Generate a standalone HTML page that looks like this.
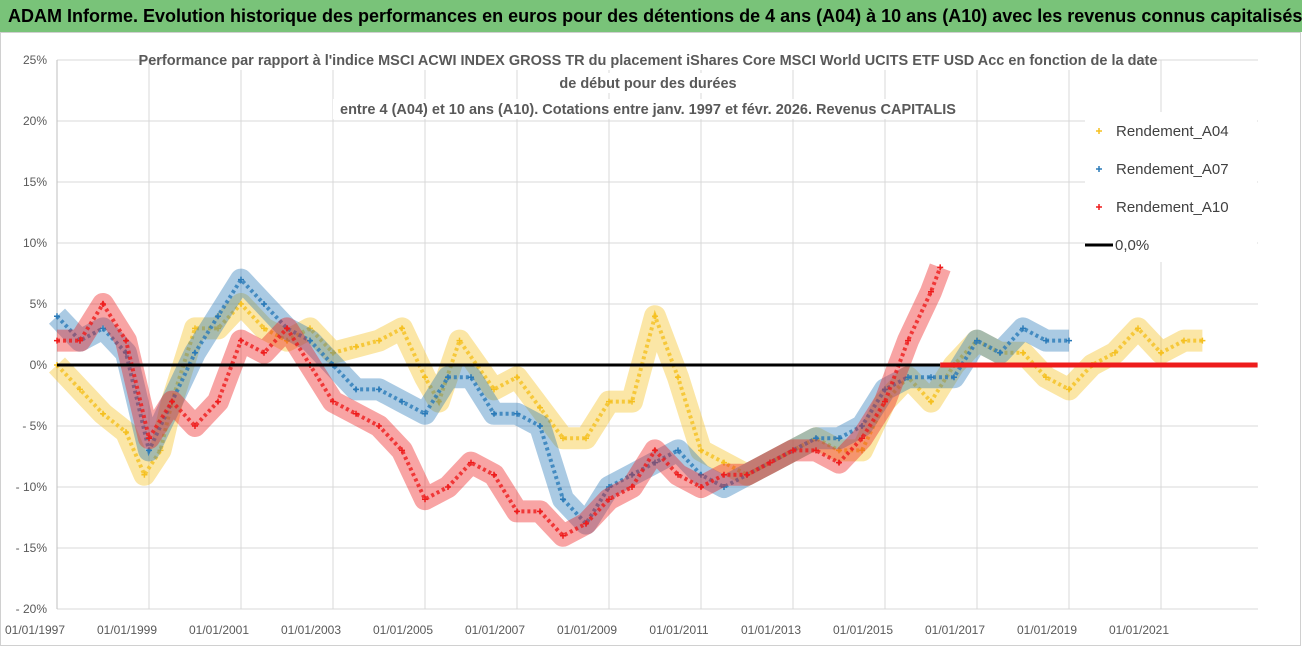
<!DOCTYPE html>
<html><head><meta charset="utf-8"><style>
body{margin:0;width:1302px;height:647px;overflow:hidden;background:#fff;font-family:"Liberation Sans",sans-serif}
#title{position:absolute;left:0;top:0;width:1302px;height:32px;background:#79c379;color:#000;font-weight:bold;font-size:18px;line-height:32px;padding-left:8px;box-sizing:border-box;white-space:nowrap;letter-spacing:0px}
svg{position:absolute;left:0;top:0}
</style></head><body>
<div id="title">ADAM Informe. Evolution historique des performances en euros pour des détentions de 4 ans (A04) à 10 ans (A10) avec les revenus connus capitalisés</div>
<svg id="chart" width="1302" height="647"></svg>
<script>
const yTicks=[25,20,15,10,5,0,-5,-10,-15,-20];
const yTickLabels=["25%","20%","15%","10%","5%","0%","- 5%","- 10%","- 15%","- 20%"];
const xTicks=[1997,1999,2001,2003,2005,2007,2009,2011,2013,2015,2017,2019,2021];
const xTickLabels=["01/01/1997","01/01/1999","01/01/2001","01/01/2003","01/01/2005","01/01/2007","01/01/2009","01/01/2011","01/01/2013","01/01/2015","01/01/2017","01/01/2019","01/01/2021"];
const datesA04=[1997,1997.5,1998,1998.5,1998.9,1999.25,1999.5,2000,2000.5,2001,2001.5,2002,2002.5,2003,2003.5,2004,2004.5,2005,2005.3,2005.75,2006.5,2007,2007.5,2008,2008.5,2009,2009.5,2010,2010.5,2011,2011.5,2012,2012.5,2013,2013.5,2014,2014.5,2015,2015.5,2016,2016.5,2017,2017.5,2018,2018.5,2019,2019.5,2020,2020.5,2021,2021.5,2021.9];
const valuesA04=[0,-2,-4,-5.5,-9,-7,-3,3,3,5,3,2,3,1,1.5,2,3,-1,-3,2,-2,-1,-3.5,-6,-6,-3,-3,4,-1,-7,-8,-9,-8,-7,-6,-7,-7,-3,-1,-3,0,2,1,1,-1,-2,0,1,3,1,2,2];
const datesA07=[1997,1997.5,1998,1998.5,1999,1999.5,2000,2000.5,2001,2001.5,2002,2002.5,2003,2003.5,2004,2004.5,2005,2005.5,2006,2006.5,2007,2007.5,2008,2008.5,2009,2009.5,2010,2010.5,2011,2011.5,2012,2012.5,2013,2013.5,2014,2014.5,2015,2015.5,2016,2016.5,2017,2017.5,2018,2018.5,2019];
const valuesA07=[4,2,3,1,-7,-3,1,4,7,5,3,2,0,-2,-2,-3,-4,-1,-1,-4,-4,-5,-11,-13,-10,-9,-8,-7,-9,-10,-9,-8,-7,-6,-6,-5,-2,-1,-1,-1,2,1,3,2,2];
const datesA10=[1997,1997.5,1998,1998.5,1999,1999.5,2000,2000.5,2001,2001.5,2002,2002.5,2003,2003.5,2004,2004.5,2005,2005.5,2006,2006.5,2007,2007.5,2008,2008.5,2009,2009.5,2010,2010.5,2011,2011.5,2012,2012.5,2013,2013.5,2014,2014.5,2015,2015.5,2016,2016.2];
const valuesA10=[2,2,5,2,-6,-3,-5,-3,2,1,3,0,-3,-4,-5,-7,-11,-10,-8,-9,-12,-12,-14,-13,-11,-10,-7,-9,-10,-9,-9,-8,-7,-7,-8,-6,-3,2,6,8];
const zeroA10Range=[2016.2,2023.1];

const NS="http://www.w3.org/2000/svg";
const svg=document.getElementById('chart');
const X0=57,X1=1258,Y0=60,Y1=609;
const xs=d=>X0+(d-1997)*46;
const ys=v=>Y0+(25-v)*(Y1-Y0)/45;
function mk(tag,attrs,parent){const e=document.createElementNS(NS,tag);for(const k in attrs)e.setAttribute(k,attrs[k]);(parent||svg).appendChild(e);return e;}

const frame=mk('rect',{x:0.5,y:32.5,width:1300,height:613,fill:'none',stroke:'#d0d0d0'});



yTicks.forEach((t,i)=>{
  const l=mk('line',{x1:X0,x2:X1,y1:ys(t),y2:ys(t),stroke:'#d9d9d9','stroke-width':1});
  
  
  const tx=mk('text',{x:47,y:ys(t)+4,'text-anchor':'end','font-size':12,fill:'#595959'});
  tx.textContent=yTickLabels[i];
  
  
});
xTicks.forEach((t,i)=>{
  const l=mk('line',{x1:xs(t),x2:xs(t),y1:Y0,y2:Y1,stroke:'#d9d9d9','stroke-width':1});
  
  
  const tx=mk('text',{x:xs(t)-22,y:634,'text-anchor':'middle','font-size':12,fill:'#595959'});
  tx.textContent=xTickLabels[i];
  
  
});
const ax=mk('line',{x1:X0,x2:X0,y1:Y0,y2:Y1,stroke:'#bfbfbf'});



function series(dates,vals,color,name){
  const g=mk('g',{});
  
  
  const pts=dates.map((d,i)=>xs(d)+','+ys(vals[i])).join(' ');
  mk('polyline',{points:pts,fill:'none',stroke:color,'stroke-width':22,'stroke-opacity':0.4,'stroke-linejoin':'round'},g);
  mk('polyline',{points:pts,fill:'none',stroke:color,'stroke-width':4,'stroke-opacity':0.8,'stroke-dasharray':'3 3'},g);
  dates.forEach((d,i)=>{
    const x=xs(d),y=ys(vals[i]);
    const p=mk('path',{d:`M${x-3} ${y}H${x+3}M${x} ${y-3}V${y+3}`,stroke:color,'stroke-width':1.5},g);
    
    
  });
}
series(datesA04,valuesA04,'#f5c020','series-a04');
series(datesA07,valuesA07,'#2a7ab8','series-a07');
series(datesA10,valuesA10,'#ee1c1c','series-a10');

const zl=mk('line',{x1:X0,x2:xs(zeroA10Range[0]),y1:ys(0),y2:ys(0),stroke:'#000','stroke-width':3});


const rz=mk('line',{x1:xs(zeroA10Range[0]),x2:xs(zeroA10Range[1]),y1:ys(0),y2:ys(0),stroke:'#ee1c1c','stroke-width':5});



const titles=[["Performance par rapport à l'indice MSCI ACWI INDEX GROSS TR  du placement iShares Core MSCI World UCITS ETF USD Acc en fonction de la date",65],["de début pour des durées",88],["entre 4 (A04) et 10 ans (A10). Cotations entre janv. 1997 et févr. 2026. Revenus CAPITALIS",114]];
titles.forEach(t=>{
  const r=mk('rect',{x:648-(t[0].length*3.5),y:t[1]-15,width:t[0].length*7,height:20,fill:'#fff'});
  
  
  const tx=mk('text',{x:648,y:t[1],'text-anchor':'middle','font-size':14.5,'font-weight':'bold',fill:'#595959'});
  tx.textContent=t[0];
  
  
});

const lb=mk('rect',{x:1085,y:112,width:172,height:150,fill:'#fff'});


const leg=[["Rendement_A04",'#f5c020',136],["Rendement_A07",'#2a7ab8',174],["Rendement_A10",'#ee1c1c',212]];
leg.forEach(l=>{
  const g=mk('g',{});
  
  
  mk('path',{d:`M1096 ${l[2]-5}h6M1099 ${l[2]-8}v6`,stroke:l[1],'stroke-width':1.5},g);
  const tx=mk('text',{x:1116,y:l[2],'font-size':15,fill:'#404040'},g);
  tx.textContent=l[0];
});
const g0=mk('g',{});


mk('line',{x1:1085,x2:1113,y1:245,y2:245,stroke:'#000','stroke-width':3},g0);
const t0=mk('text',{x:1115,y:250,'font-size':15,fill:'#404040'},g0);
t0.textContent="0,0%";
</script>
</body></html>
